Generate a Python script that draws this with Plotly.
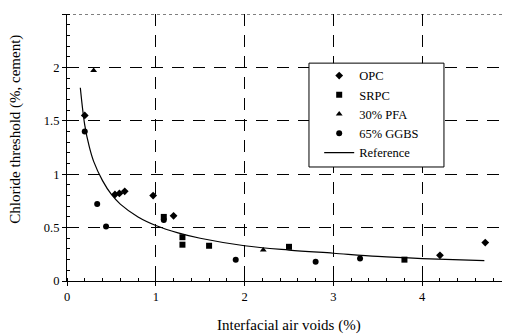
import plotly.graph_objects as go

# OPC
opc_x = [0.20, 0.54, 0.59, 0.65, 0.97, 1.20, 4.20, 4.71]
opc_y = [1.55, 0.81, 0.82, 0.84, 0.80, 0.61, 0.24, 0.36]
# SRPC
srpc_x = [1.09, 1.30, 1.30, 1.60, 2.50, 3.80]
srpc_y = [0.60, 0.41, 0.34, 0.33, 0.32, 0.20]
# 30% PFA
pfa_x = [0.30, 2.21]
pfa_y = [1.97, 0.29]
# 65% GGBS
ggbs_x = [0.20, 0.34, 0.44, 1.09, 1.90, 2.80, 3.30]
ggbs_y = [1.40, 0.72, 0.51, 0.57, 0.20, 0.18, 0.21]
# Reference curve
ref_x = [0.15, 0.20, 0.25, 0.30, 0.40, 0.50, 0.60, 0.80, 1.00, 1.25, 1.50, 2.00, 2.50, 3.00, 3.50, 4.00, 4.70]
ref_y = [1.81, 1.46, 1.26, 1.12, 0.94, 0.81, 0.72, 0.60, 0.52, 0.45, 0.40, 0.33, 0.29, 0.26, 0.23, 0.21, 0.19]

x_ticks = [0, 1, 2, 3, 4, 5]
y_ticks = [0, 0.5, 1, 1.5, 2, 2.5]
y_tick_text = ["0", "0.5", "1", "1.5", "2", "2.5"]

font = "Liberation Serif"

fig = go.Figure()
fig.add_trace(go.Scatter(x=opc_x, y=opc_y, mode="markers", name="OPC",
                         marker=dict(symbol="diamond", size=6, color="black")))
fig.add_trace(go.Scatter(x=srpc_x, y=srpc_y, mode="markers", name="SRPC",
                         marker=dict(symbol="square", size=6, color="black")))
fig.add_trace(go.Scatter(x=pfa_x, y=pfa_y, mode="markers", name="30% PFA",
                         marker=dict(symbol="triangle-up", size=6, color="black")))
fig.add_trace(go.Scatter(x=ggbs_x, y=ggbs_y, mode="markers", name="65% GGBS",
                         marker=dict(symbol="circle", size=6, color="black")))
fig.add_trace(go.Scatter(x=ref_x, y=ref_y, mode="lines", name="Reference",
                         line=dict(color="black", width=1.2, shape="spline")))

fig.update_layout(
    width=503, height=327,
    margin=dict(l=59, r=0, t=6, b=54, autoexpand=False),
    paper_bgcolor="white", plot_bgcolor="white",
    font=dict(family=font, size=12, color="black"),
    showlegend=True,
    legend=dict(x=0.568, y=0.824, xanchor="left", yanchor="top",
                bgcolor="rgba(0,0,0,0)", borderwidth=0,
                font=dict(family=font, size=12.5, color="black"),
                itemwidth=30, tracegroupgap=0),
)
fig.update_xaxes(
    range=[0, 5], tickvals=x_ticks, ticktext=[str(v) for v in x_ticks],
    showgrid=True, gridcolor="black", gridwidth=1, griddash="12px,9px",
    showline=True, linecolor="black", linewidth=1.2,
    ticks="outside", ticklen=4, tickcolor="black",
    minor=dict(dtick=0.2, ticks="inside", ticklen=3, tickcolor="black", showgrid=False),
    zeroline=False, automargin=False,
    tickfont=dict(family=font, size=12.5),
)
fig.update_yaxes(
    range=[0, 2.5], tickvals=y_ticks, ticktext=y_tick_text,
    showgrid=True, gridcolor="black", gridwidth=1, griddash="12px,9px",
    showline=True, linecolor="black", linewidth=1.2,
    ticks="outside", ticklen=4, tickcolor="black",
    minor=dict(dtick=0.1, ticks="inside", ticklen=3, tickcolor="black", showgrid=False),
    zeroline=False, automargin=False,
    tickfont=dict(family=font, size=12.5),
)
# axis titles
fig.add_annotation(text="Interfacial air voids (%)", xref="paper", yref="paper",
                   x=0.5, y=-0.165, xanchor="center", yanchor="middle", showarrow=False,
                   font=dict(family=font, size=15, color="black"))
fig.add_annotation(text="Chloride threshold (%, cement)", xref="paper", yref="paper",
                   x=-0.115, y=0.57, xanchor="center", yanchor="middle", textangle=-90,
                   showarrow=False, font=dict(family=font, size=15, color="black"))
# dotted top border
fig.add_shape(type="line", xref="paper", yref="y", x0=0, x1=1, y0=2.5, y1=2.5,
              line=dict(color="black", width=1, dash="dot"), layer="above")
# legend frame (white box covering gridlines)
fig.add_shape(type="rect", xref="paper", yref="paper", x0=0.545, x1=0.849, y0=0.427, y1=0.816,
              line=dict(color="black", width=1), fillcolor="white", layer="above")

fig.write_html("out.html")
